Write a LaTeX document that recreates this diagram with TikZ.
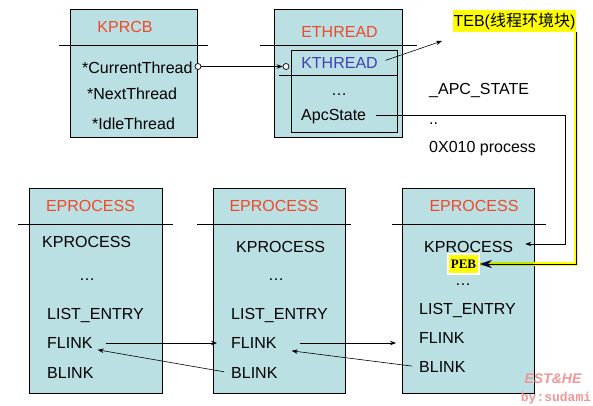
\documentclass[tikz,border=0pt]{standalone}
\usepackage{fontspec}
\setmainfont{Liberation Sans}
\newfontfamily\cjk{Noto Sans CJK SC}
\newfontfamily\pebfont{Liberation Serif}
\newfontfamily\markfont{Liberation Mono}
\usetikzlibrary{arrows.meta}
\definecolor{boxcyan}{RGB}{186,224,227}
\definecolor{headred}{RGB}{240,72,40}
\definecolor{kblue}{RGB}{64,64,184}
\definecolor{tebyellow}{RGB}{255,255,0}
\definecolor{pebgreen}{RGB}{194,228,0}
\definecolor{markpink}{RGB}{240,150,150}

\begin{document}
\begin{tikzpicture}[
                x=1pt, y=-1pt,               % 按像素取坐标
                >={Stealth[length=6pt,width=4.5pt]},
                box/.style={draw, fill=boxcyan, line width=0.9pt, inner sep=0pt},
                txt/.style={inner sep=0pt, text height=11.5pt, text depth=0pt,
                            font=\fontsize{16}{19}\selectfont},
                head/.style={txt, text=headred},
                sep/.style={line width=0.8pt},
                dot/.style={circle, draw, fill=white, inner sep=0pt,
                            minimum size=6pt, line width=0.7pt},
                arrow/.style={->, line width=0.8pt},
                tebline/.style={line width=4.5pt, tebyellow}
            ]
                \useasboundingbox (0,0) rectangle (593,406);

                % KPRCB
                \node[box, minimum width=127pt, minimum height=128pt] (kprcb) at (133.5,73) {};
                \draw[sep] (59,45) -- (208,45);
                \node[head] (kprcbname) at (125,27) {KPRCB};
                \node[txt, anchor=west] (curthr) at (82,68) {*CurrentThread};
                \node[txt, anchor=west] (nextthr) at (87,94) {*NextThread};
                \node[txt, anchor=west] (idlethr) at (92,124) {*IdleThread};

                % ETHREAD / KTHREAD
                \node[box, minimum width=128pt, minimum height=128pt] (ethread) at (338,73) {};
                \draw[sep] (260,45) -- (417,45);
                \node[head] (ethreadname) at (339.5,32) {ETHREAD};
                \node[box, minimum width=106pt, minimum height=82pt] (kthread) at (344,91) {};
                \draw[sep] (279,75) -- (397,75);
                \node[txt, text=kblue] (kthr) at (339.5,63) {KTHREAD};
                \node[txt, anchor=base] (kdots) at (339,96) {…};
                \node[txt, anchor=west] (apc) at (301,115) {ApcState};

                % TEB 和说明文字
                \node[fill=tebyellow, inner sep=0pt, minimum width=123pt, minimum height=22pt,
                      font=\fontsize{16}{19}\selectfont] (teb) at (514.5,21) {TEB({\cjk 线程环境块})};
                \node[txt, anchor=west] (apcstate) at (429,89) {\_APC\_STATE};
                \node[txt, anchor=base west] (twodots) at (429,125) {..};
                \node[txt, anchor=west] (process) at (429,147) {0X010 process};

                % 三个 EPROCESS
                \node[box, minimum width=133pt, minimum height=205pt] (ep1) at (95.5,290.5) {};
                \draw[sep] (18,224) -- (173,224);
                \node[head] (ep1name) at (90.5,206) {EPROCESS};
                \node[txt, anchor=west] (kp1) at (42,242) {KPROCESS};
                \node[txt, anchor=base] (dots1) at (87,280) {…};
                \node[txt, anchor=west] (le1) at (47,314) {LIST\_ENTRY};
                \node[txt, anchor=west] (fl1) at (47,343) {FLINK};
                \node[txt, anchor=west] (bl1) at (47,373) {BLINK};

                \node[box, minimum width=132pt, minimum height=205pt] (ep2) at (279,290.5) {};
                \draw[sep] (197,224) -- (351,224);
                \node[head] (ep2name) at (274,206) {EPROCESS};
                \node[txt, anchor=west] (kp2) at (236,247) {KPROCESS};
                \node[txt, anchor=base] (dots2) at (276,280) {…};
                \node[txt, anchor=west] (le2) at (231,314) {LIST\_ENTRY};
                \node[txt, anchor=west] (fl2) at (231,343) {FLINK};
                \node[txt, anchor=west] (bl2) at (231,373) {BLINK};

                \node[box, minimum width=132pt, minimum height=205pt] (ep3) at (468,290.5) {};
                \draw[sep] (392,224) -- (546,224);
                \node[head] (ep3name) at (474,206) {EPROCESS};
                \node[txt, anchor=west] (kp3) at (424,247) {KPROCESS};
                \node[fill=tebyellow, draw=white, line width=1.5pt, inner sep=0pt,
                      minimum width=31pt, minimum height=20pt,
                      font=\pebfont\bfseries\fontsize{13}{13}\selectfont] (peb) at (463.5,264) {PEB};
                \node[txt, anchor=base] (dots3) at (463,285) {…};
                \node[txt, anchor=west] (le3) at (419,309) {LIST\_ENTRY};
                \node[txt, anchor=west] (fl3) at (419,338) {FLINK};
                \node[txt, anchor=west] (bl3) at (419,367) {BLINK};

                % 连线
                \node[dot] (ctdot) at (198,66.5) {};
                \node[dot] (ktdot) at (286,66.5) {};
                \draw[arrow] (ctdot) -- (ktdot);
                \coordinate (tebin) at (442,41);
                \draw[arrow, line width=0.6pt, shorten <=8pt] (kthr.east) -- (tebin);
                \coordinate (apcbend) at (565,115);
                \draw[arrow, line width=0.7pt, shorten <=10pt, shorten >=12pt]
                    (apc.east) -- (apcbend) |- ([yshift=3pt]kp3.east);
                \draw[tebline] (teb.south east) |- (peb.east);
                \draw[line width=4.5pt, pebgreen] (peb.east) -- (peb.east -| ep3.east);
                \draw[line width=0.8pt, -{Stealth[length=12pt,width=8pt,fill=blue]}]
                    (teb.south east) |- (peb.east);

                \draw[arrow, shorten <=13pt, shorten >=14pt] (fl1.east) -- (fl2.west);
                \draw[arrow, shorten <=23pt, shorten >=23pt] (fl2.east) -- (fl2.east -| fl3.west);
                \draw[arrow, line width=0.6pt, shorten <=7pt, shorten >=5pt] (bl2.west) -- (fl1.south east);
                \draw[arrow, line width=0.6pt, shorten <=7pt, shorten >=15pt] (bl3.west) -- (fl2.south east);

                % 水印
                \node[text=markpink, inner sep=0pt, font=\bfseries\itshape\fontsize{14}{14}\selectfont]
                    (mark1) at (553,379) {EST\&HE};
                \node[text=markpink, inner sep=0pt, font=\markfont\bfseries\fontsize{13}{13}\selectfont]
                    (mark2) at (556,398) {by:sudami};
            \end{tikzpicture}
\end{document}
